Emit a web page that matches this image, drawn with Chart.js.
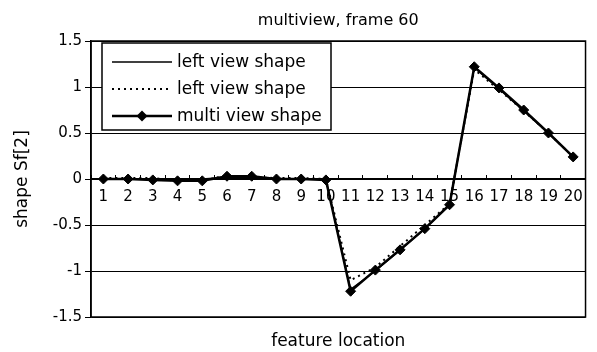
<!DOCTYPE html>
<html><head><meta charset="utf-8">
<script src="https://cdn.jsdelivr.net/npm/chart.js@4/dist/chart.umd.min.js"></script>
<style>html,body{margin:0;padding:0;background:#fff}#wrap{width:597px;height:352px}</style>
</head><body><div id="wrap"><canvas id="c" width="597" height="352"></canvas></div>
<script>
const categories = ['1','2','3','4','5','6','7','8','9','10','11','12','13','14','15','16','17','18','19','20'];
const leftViewSolid  = [0, 0, 0, -0.01, 0, 0.02, 0.02, 0, 0, 0, -1.2, -1.0, -0.77, -0.54, -0.28, 1.21, 0.98, 0.74, 0.5, 0.24];
const leftViewDotted = [0.01, 0.01, 0.01, -0.02, -0.02, 0.04, 0.02, 0.01, 0.01, 0, -1.1, -0.96, -0.73, -0.5, -0.27, 1.19, 0.97, 0.74, 0.5, 0.24];
const multiView      = [0, 0, -0.01, -0.02, -0.02, 0.03, 0.03, 0, 0, -0.01, -1.22, -0.99, -0.77, -0.54, -0.28, 1.22, 0.99, 0.75, 0.5, 0.24];
const seriesNames = ['left view shape', 'left view shape', 'multi view shape'];
const yMin = -1.5, yMax = 1.5, yStep = 0.5;
const titleText = 'multiview, frame 60';
const xTitleText = 'feature location';
const yTitleText = 'shape Sf[2]';

const FONT = "'DejaVu Sans', sans-serif";

const frame = {
  id: 'frame',
  beforeDatasetsDraw(chart) {
    const {ctx, chartArea: a} = chart;
    ctx.save();
    ctx.strokeStyle = '#000';
    ctx.lineWidth = 1.5;
    ctx.strokeRect(a.left, a.top, a.right - a.left, a.bottom - a.top);
    ctx.restore();
  }
};

const boxLegend = {
  id: 'boxLegend',
  afterDatasetsDraw(chart) {
    const {ctx, chartArea: a} = chart;
    const left = a.left + 11, top = a.top + 2, w = 229, h = 87;
    ctx.save();
    ctx.fillStyle = '#fff';
    ctx.fillRect(left, top, w, h);
    ctx.strokeStyle = '#000';
    ctx.lineWidth = 1.5;
    ctx.strokeRect(left, top, w, h);
    chart.data.datasets.forEach((ds, i) => {
      const y = top + 19 + i * 27;
      ctx.save();
      ctx.strokeStyle = ds.borderColor;
      ctx.lineWidth = ds.borderWidth;
      ctx.setLineDash(ds.borderDash || []);
      ctx.beginPath();
      ctx.moveTo(left + 10, y);
      ctx.lineTo(left + 70, y);
      ctx.stroke();
      ctx.restore();
      if (ds.pointRadius > 0) {
        const r = ds.pointRadius + 0.5;
        ctx.fillStyle = ds.pointBackgroundColor;
        ctx.beginPath();
        ctx.moveTo(left + 40, y - r); ctx.lineTo(left + 40 + r, y); ctx.lineTo(left + 40, y + r); ctx.lineTo(left + 40 - r, y); ctx.closePath();
        ctx.fill();
      }
      ctx.fillStyle = '#000';
      ctx.font = "17px " + FONT;
      ctx.textBaseline = 'middle';
      ctx.textAlign = 'left';
      ctx.fillText(ds.label, left + 75, y + 1);
    });
    ctx.restore();
  }
};

new Chart(document.getElementById('c'), {
  type: 'line',
  data: {
    labels: categories,
    datasets: [
      { label: seriesNames[0], data: leftViewSolid, borderColor: '#000', backgroundColor: '#000', borderWidth: 1.5, pointRadius: 0, tension: 0, fill: false, xAxisID: 'x', yAxisID: 'y' },
      { label: seriesNames[1], data: leftViewDotted, borderColor: '#000', backgroundColor: '#000', borderWidth: 2, borderDash: [2, 4], pointRadius: 0, tension: 0, fill: false, xAxisID: 'x', yAxisID: 'y' },
      { label: seriesNames[2], data: multiView, borderColor: '#000', backgroundColor: '#000', borderWidth: 2.5, pointStyle: 'rectRot', pointRadius: 5, pointBackgroundColor: '#000', pointBorderColor: '#000', pointBorderWidth: 1, tension: 0, fill: false, xAxisID: 'x', yAxisID: 'y' }
    ]
  },
  options: {
    responsive: false,
    animation: false,
    devicePixelRatio: 1,
    layout: { padding: { left: 0, right: 5, top: 0, bottom: 0 } },
    plugins: {
      legend: { display: false },
      tooltip: { enabled: false },
      title: { display: true, fullSize: false, text: titleText, color: '#000', font: { family: FONT, size: 16, weight: 'normal' }, padding: { top: 11, bottom: 10.8 } }
    },
    scales: {
      y: {
        type: 'linear', position: 'left', min: yMin, max: yMax,
        ticks: { stepSize: yStep, color: '#000', font: { family: FONT, size: 15 }, padding: 3, callback: (v) => String(Number(v)) },
        grid: { color: '#000', lineWidth: 1, tickLength: 6, drawTicks: true },
        border: { color: '#000', width: 1.5 },
        title: { display: true, text: yTitleText, color: '#000', font: { family: FONT, size: 17 }, padding: { top: 12, bottom: 0 } },
        afterFit(s) { s.width = 91; }
      },
      x: {
        type: 'category', position: { y: 0 }, offset: true,
        ticks: { color: '#000', font: { family: FONT, size: 15 }, padding: 14, autoSkip: false, maxRotation: 0 },
        grid: { offset: true, drawOnChartArea: false, color: '#000', tickLength: -5, lineWidth: 1 },
        border: { color: '#000', width: 2 }
      },
      x2: {
        type: 'category', position: 'bottom', offset: true,
        ticks: { display: false },
        grid: { display: false },
        border: { display: false },
        title: { display: true, text: xTitleText, color: '#000', font: { family: FONT, size: 17 }, padding: { top: 10, bottom: 0 } },
        afterFit(s) { s.height = 35; }
      }
    }
  },
  plugins: [frame, boxLegend]
});
</script>
</body></html>
